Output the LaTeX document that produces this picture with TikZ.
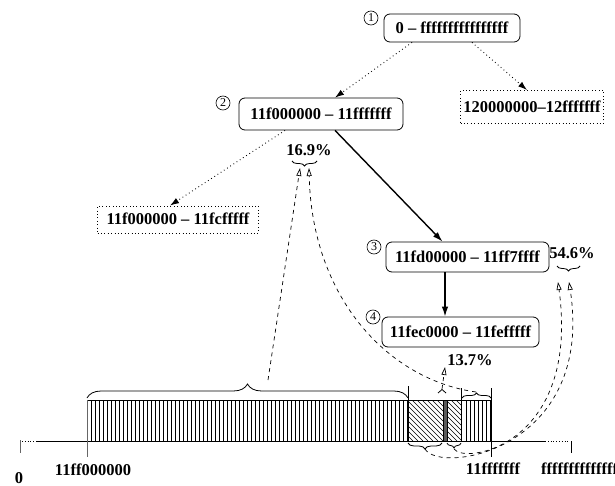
\documentclass[tikz,border=0pt]{standalone}
\usepackage{fontspec}
\setmainfont{Liberation Serif}
\usetikzlibrary{arrows.meta,decorations.pathreplacing,calc}
\begin{document}
\begin{tikzpicture}[x=1pt,y=-1pt,
  bf/.style={font=\fontsize{16.5}{18}\selectfont\bfseries},
  box/.style={bf, draw, rounded corners=6pt, line width=0.8pt, inner xsep=2pt, inner ysep=0pt, text height=11.5pt, text depth=0.5pt},
  dotbox/.style={bf, draw, dash pattern=on 0.8pt off 2.6pt, line width=0.9pt, inner xsep=2pt, inner ysep=0pt, text height=11.5pt, text depth=0.5pt},
  num/.style={circle, draw, line width=0.6pt, inner sep=0pt, minimum size=14pt, font=\fontsize{12}{12}\selectfont},
  lbl/.style={bf, inner sep=0pt},
  dotarrow/.style={dash pattern=on 0.8pt off 3pt, line width=0.9pt, -{Latex[length=9pt,width=6pt]}},
  solidarrow/.style={line width=1.4pt, -{Latex[length=10pt,width=6.5pt]}},
  dasharrow/.style={dash pattern=on 4pt off 4pt, line width=0.7pt, -{Triangle[open,length=8pt,width=5pt,line width=0.7pt]}},
  hatch/.style={line width=0.5pt},
  brc/.style={decorate, decoration={brace, amplitude=#1}, line width=0.8pt},
]
\useasboundingbox (0,0) rectangle (615,486);

% ---- tree nodes
\node[box, minimum width=136pt, minimum height=28pt] (n1) at (452,28) {0 \textendash{} ffffffffffffffff};
\node[num] (c1) at (371,18) {1};
\node[dotbox, minimum width=143pt, minimum height=33pt] (nR) at (532,107) {120000000\textendash 12fffffff};
\node[box, minimum width=164pt, minimum height=32pt] (n2) at (321,114) {11f000000 \textendash{} 11fffffff};
\node[num] (c2) at (223,103) {2};
\node[dotbox, minimum width=161pt, minimum height=27pt] (nL) at (178,219.5) {11f000000 \textendash{} 11fcfffff};
\node[box, minimum width=163pt, minimum height=30pt] (n3) at (467.5,257) {11fd00000 \textendash{} 11ff7ffff};
\node[num] (c3) at (374,247) {3};
\node[box, minimum width=157pt, minimum height=30pt] (n4) at (460.5,332) {11fec0000 \textendash{} 11fefffff};
\node[num] (c4) at (373,317) {4};

\node[lbl] (p169) at (309,150) {16.9\%};
\node[lbl] (p546) at (572,253) {54.6\%};
\node[lbl] (p137) at (470,360) {13.7\%};

% ---- tree connectors
\draw[dotarrow] ([xshift=20pt]n1.south) -- ([xshift=-5pt]nR.north);
\draw[dotarrow] ([xshift=-40pt]n1.south) -- ([xshift=14pt]n2.north);
\draw[dotarrow] ([xshift=-36pt]n2.south) -- ([xshift=-8pt]nL.north);
\draw[solidarrow] ([xshift=14pt]n2.south) -- ([xshift=-25pt]n3.north);
\draw[solidarrow] ([xshift=-22.5pt]n3.south) -- ([xshift=-22.5pt]n3.south |- n4.north);

% ---- bar hatching
\foreach \x in {91,95,...,407} \draw[hatch] (\x,400) -- (\x,441);
\foreach \x in {466,470,...,490} \draw[hatch] (\x,400) -- (\x,441);
\begin{scope}
  \clip (408,400) rectangle (443,441);
  \foreach \x in {362,367,...,445} \draw[hatch] (\x,400) -- (\x+41,441);
\end{scope}
\begin{scope}
  \clip (447,400) rectangle (461,441);
  \foreach \x in {401,406,...,465} \draw[hatch] (\x,400) -- (\x+41,441);
\end{scope}
\fill[black!65] (443,400) rectangle (447,441);

% ---- bar outline and axis
\draw[line width=1pt] (87,400) -- (491,400);
\draw[line width=1pt] (37,441) -- (545,441);
\draw[line width=0.9pt, dash pattern=on 0.8pt off 2pt] (22,441) -- (37,441);
\draw[line width=0.9pt, dash pattern=on 0.8pt off 2pt] (545,441) -- (568,441);
\draw[line width=1pt, black!60] (20,440) -- (20,453);
\draw[line width=1pt, black!60] (87,400) -- (87,457);
\draw[line width=0.9pt] (408,386) -- (408,441);
\draw[line width=0.6pt] (443,400) -- (443,441);
\draw[line width=0.6pt] (447,400) -- (447,441);
\draw[line width=0.9pt] (461.5,388) -- (461.5,441);
\draw[line width=0.9pt] (491,388) -- (491,457);
\draw[line width=0.9pt] (571,441) -- (571,453);

% ---- axis labels
\node[lbl] (l0) at (19,478) {0};
\node[lbl] (lA) at (93,470) {11ff000000};
\node[lbl] (lB) at (493,469) {11fffffff};
\node[lbl, anchor=west] (lC) at (541,469) {ffffffffffffffff};

% ---- braces
\draw[brc=14pt] (87,398) -- (408,398);
\draw[brc=5pt] (462,398) -- (491,398);
\draw[brc=3.5pt] (438,393) -- (446,393);
\draw[brc=6pt] (442,443) -- (408,443);
\draw[brc=5pt] (461,443) -- (447,443);
\draw[brc=5pt] (317,161) -- (292,161);
\draw[brc=5pt] (580,266) -- (557,266);

\coordinate (bigtip) at (268,380);
\coordinate (rtip) at (476,392);
\coordinate (dtip) at (442,389);
\coordinate (ltipd) at (425,449);
\coordinate (rtipd) at (454,449);
\coordinate (a169l) at (300,168);
\coordinate (a169r) at (309,168);
\coordinate (a546l) at (558,282);
\coordinate (a546r) at (569,282);
\coordinate (a137) at (445,367);

% ---- dashed references
\draw[dasharrow] (bigtip) -- (a169l);
\draw[dasharrow] (rtip) .. controls (390,380) and (312,300) .. (a169r);
\draw[dasharrow] (dtip) -- (a137);
\draw[dasharrow] (ltipd) .. controls (440,475) and (595,450) .. (a546r);
\draw[dasharrow] (rtipd) .. controls (465,465) and (580,445) .. (a546l);
\end{tikzpicture}
\end{document}
